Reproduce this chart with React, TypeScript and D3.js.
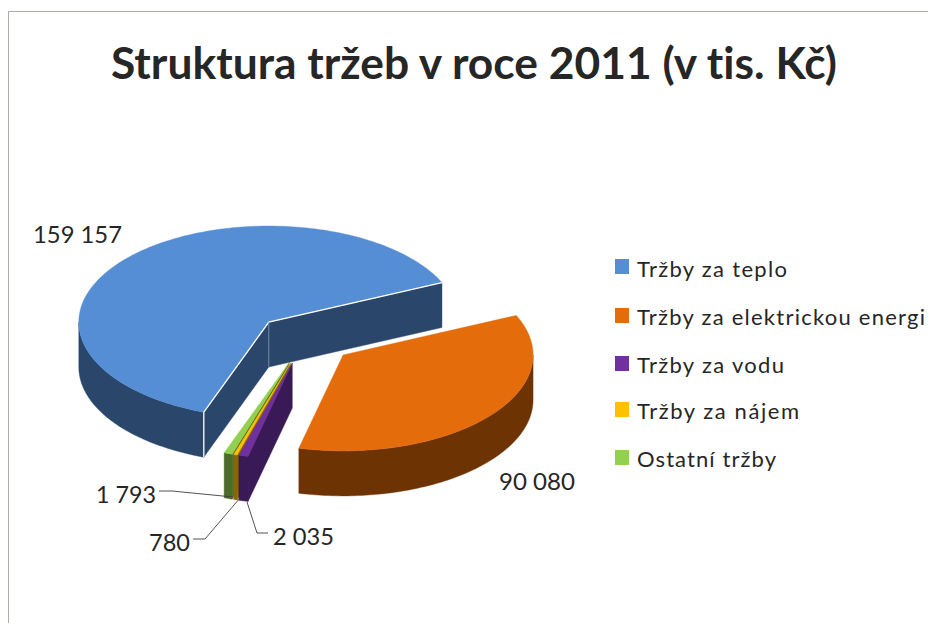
import React from "react";
import * as d3 from "d3";

const categories = ["Tržby za teplo", "Tržby za elektrickou energi", "Tržby za vodu", "Tržby za nájem", "Ostatní tržby"];
const values = [159157, 90080, 2035, 780, 1793];
const valueLabels = ["159 157", "90 080", "2 035", "780", "1 793"];
const topColors = ["#558ed5", "#e46c0a", "#7030a0", "#ffc000", "#92d050"];
const sideColors = ["#2a476b", "#6e3303", "#3a1a56", "#8a6800", "#4c6b28"];

const W = 928, H = 623;
const cx = 305, cy = 339, rx = 190, ry = 96, depth = 45, explode = 0.26;
const rad = Math.PI / 180;
const FONT = "Lato, Carlito, 'Open Sans', sans-serif";
const INK = "#262626";

const pie = d3.pie<number>().sort(null).startAngle(200 * rad).endAngle(560 * rad);
const arcs = pie(values).map((a) => {
  const shift = a.startAngle >= 2 * Math.PI ? 2 * Math.PI : 0;
  return { startAngle: a.startAngle - shift, endAngle: a.endAngle - shift };
});

type P = [number, number];
const line = d3.line<P>();

function slice(i: number) {
  const a0 = arcs[i].startAngle, a1 = arcs[i].endAngle, mid = (a0 + a1) / 2;
  const ox = cx + explode * rx * Math.sin(mid), oy = cy - explode * ry * Math.cos(mid);
  const at = (t: number, r = 1, dz = 0): P => [ox + r * rx * Math.sin(t), oy - r * ry * Math.cos(t) + dz];
  const arcPts = (s: number, e: number, dz = 0) => {
    const n = Math.max(2, Math.ceil((e - s) / (1 * rad)));
    return d3.range(n + 1).map((k) => at(s + ((e - s) * k) / n, 1, dz));
  };
  const top = line([at(0, 0), ...arcPts(a0, a1)]) + "Z";
  const walls: string[] = [];
  if (Math.sin(a0) < 0) walls.push(line([at(0, 0), at(a0), at(a0, 1, depth), at(0, 0, depth)]) + "Z");
  if (Math.sin(a1) > 0) walls.push(line([at(0, 0), at(a1), at(a1, 1, depth), at(0, 0, depth)]) + "Z");
  const s = Math.max(a0, 90 * rad), e = Math.min(a1, 270 * rad);
  if (e > s) walls.push(line([...arcPts(s, e), ...arcPts(s, e, depth).reverse()]) + "Z");
  return { top, walls, at, a0, a1 };
}

const drawOrder = [0, 4, 3, 2, 1];
const legendRows = [
  { sw: 259, base: 277, len: 150 },
  { sw: 308, base: 325, len: 288 },
  { sw: 356, base: 373, len: 147 },
  { sw: 402, base: 419, len: 162 },
  { sw: 450, base: 467, len: 139 },
];
const labelPos = [
  { x: 33, y: 243, len: 89 },
  { x: 499, y: 490, len: 76 },
  { x: 273, y: 545, len: 61 },
  { x: 149, y: 551, len: 41 },
  { x: 96, y: 503, len: 60 },
];
const leaders: P[][] = [
  [[268, 533], [257, 533], [247, 502]],
  [[193, 539], [205, 539], [240, 498]],
  [[159, 491], [172, 491], [233, 497]],
];

export default function App() {
  const blue = slice(0);
  return (
    <svg width={W} height={H} viewBox={`0 0 ${W} ${H}`} style={{ position: "absolute", left: 0, top: 0, background: "#fff", fontVariantLigatures: "none" }}>
      <path d={`M8.5 ${H}V11.5H${W}`} fill="none" stroke="#b3aaa6" strokeWidth={1} />
      <text x={111} y={79} fontFamily={FONT} fontWeight={700} fontSize={44} fill={INK} textLength={726} lengthAdjust="spacingAndGlyphs">
        Struktura tržeb v roce 2011 (v tis. Kč)
      </text>
      {drawOrder.map((i) => {
        const s = slice(i);
        return (
          <g key={categories[i]}>
            {s.walls.map((d, k) => (
              <path key={k} d={d} fill={sideColors[i]} stroke={sideColors[i]} strokeWidth={0.4} />
            ))}
            <path d={s.top} fill={topColors[i]} stroke={topColors[i]} strokeWidth={0.4} />
          </g>
        );
      })}
      <path
        d={line([blue.at(blue.a1), blue.at(0, 0), blue.at(blue.a0), blue.at(blue.a0, 1, depth)]) ?? ""}
        fill="none"
        stroke="#fff"
        strokeWidth={1.3}
      />
      <path d={line([blue.at(0, 0), blue.at(0, 0, depth)]) ?? ""} fill="none" stroke="#7f93ad" strokeWidth={0.8} />
      {leaders.map((pts, i) => (
        <path key={i} d={line(pts) ?? ""} fill="none" stroke="#404040" strokeWidth={0.9} />
      ))}
      {valueLabels.map((t, i) => (
        <text key={t} x={labelPos[i].x} y={labelPos[i].y} fontFamily={FONT} fontSize={23} fill={INK} textLength={labelPos[i].len} lengthAdjust="spacingAndGlyphs">
          {t}
        </text>
      ))}
      {categories.map((c, i) => (
        <g key={c}>
          <rect x={615} y={legendRows[i].sw} width={14} height={15} fill={topColors[i]} />
          <text x={637} y={legendRows[i].base} fontFamily={FONT} fontSize={22} fill={INK} textLength={legendRows[i].len} lengthAdjust="spacing">
            {c}
          </text>
        </g>
      ))}
    </svg>
  );
}
